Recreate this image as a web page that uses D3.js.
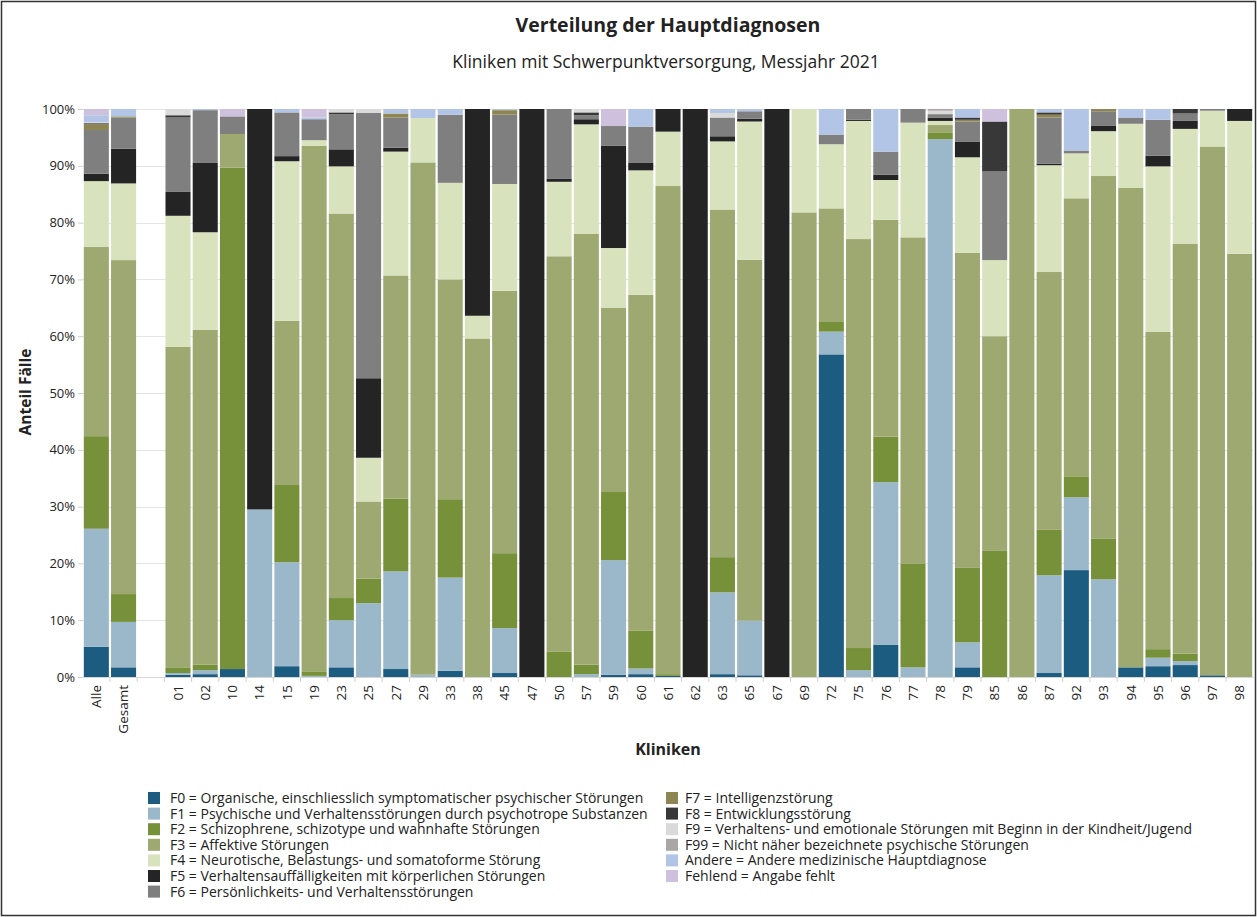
<!DOCTYPE html>
<html>
<head>
<meta charset="utf-8">
<script src="https://cdn.jsdelivr.net/npm/d3@7"></script>
<style>
  body { margin: 0; background: #fff; }
  svg { display: block; }
  text { font-family: "Open Sans", sans-serif; fill: #222; }
</style>
</head>
<body>
<svg id="chart" width="1257" height="917"></svg>
<script>
// Kliniken (leere Kategorie als Abstand nach "Gesamt")
var categories = ['Alle', 'Gesamt', '', '01', '02', '10', '14', '15', '19', '23', '25', '27', '29', '33', '38', '45', '47', '50', '57', '59', '60', '61', '62', '63', '65', '67', '69', '72', '75', '76', '77', '78', '79', '85', '86', '87', '92', '93', '94', '95', '96', '97', '98'];

// Anteile in %
var f0 = [5.3, 1.7, 0, 0.4, 0.5, 1.4, 0, 1.9, 0, 1.7, 0, 1.4, 0, 1.1, 0, 0.7, 0, 0, 0, 0.4, 0.5, 0.2, 0, 0.5, 0.3, 0, 0, 56.8, 0, 5.7, 0, 0, 1.7, 0, 0, 0.7, 18.8, 0, 1.7, 1.9, 2.1, 0.3, 0];
var f1 = [20.8, 8.0, 0, 0.3, 0.7, 0, 29.5, 18.3, 0.2, 8.3, 13.0, 17.2, 0.4, 16.4, 0, 7.9, 0, 0, 0.5, 20.2, 1.0, 0, 0, 14.4, 9.6, 0, 0, 4.0, 1.2, 28.6, 1.7, 94.7, 4.4, 0, 0, 17.2, 12.8, 17.2, 0, 1.5, 0.7, 0, 0];
var f2 = [16.3, 4.9, 0, 1.0, 1.0, 88.3, 0, 13.6, 0.8, 3.9, 4.3, 12.8, 0, 13.8, 0, 13.2, 0, 4.5, 1.7, 12.0, 6.7, 0.3, 0, 6.2, 0, 0, 0, 1.7, 3.9, 8.0, 18.3, 1.2, 13.2, 22.2, 0, 8.0, 3.7, 7.2, 0, 1.5, 1.3, 0, 0];
var f3 = [33.3, 58.8, 0, 56.4, 58.9, 5.9, 0, 28.9, 92.7, 67.7, 13.6, 39.3, 90.2, 38.7, 59.6, 46.2, 0, 69.5, 75.8, 32.5, 59.1, 86.2, 0, 61.2, 63.5, 0, 81.8, 20.0, 72.0, 38.2, 57.4, 1.3, 55.4, 37.8, 100, 45.4, 48.9, 63.8, 84.4, 55.9, 72.2, 93.1, 74.5];
var f4 = [11.6, 13.5, 0, 23.1, 17.2, 0, 0, 28.1, 1.0, 8.3, 7.7, 21.8, 7.8, 17.0, 4.0, 18.8, 0, 13.1, 19.3, 10.5, 21.9, 9.6, 0, 12.0, 24.3, 0, 18.2, 11.3, 20.8, 7.0, 20.2, 0.7, 16.8, 13.4, 0, 18.8, 7.9, 7.9, 11.3, 29.1, 20.2, 6.3, 23.4];
var f5 = [1.3, 6.1, 0, 4.2, 12.2, 0, 70.5, 0.9, 0, 3.0, 14.0, 0.7, 0, 0, 36.4, 0, 100, 0.5, 0.9, 18.0, 1.3, 4.0, 100, 0.9, 0.5, 100, 0, 0, 0.2, 0.9, 0, 0.6, 2.7, 0, 0, 0.3, 0, 1.0, 0, 1.9, 1.4, 0, 2.1];
var f6 = [7.7, 5.5, 0, 13.1, 9.3, 3.1, 0, 7.7, 3.7, 6.2, 46.7, 5.3, 0, 12.0, 0, 12.2, 0, 12.3, 0.7, 3.5, 6.4, 0, 0, 3.3, 1.3, 0, 0, 1.7, 1.9, 4.1, 2.4, 0.6, 3.6, 15.6, 0, 8.1, 0.5, 2.5, 1.1, 6.3, 1.3, 0.3, 0];
var f7 = [1.0, 0.2, 0, 0, 0, 0, 0, 0, 0, 0, 0, 0.7, 0, 0, 0, 0.8, 0, 0, 0, 0, 0, 0, 0, 0, 0, 0, 0, 0, 0, 0, 0, 0, 0.3, 0, 0, 0.5, 0, 0.4, 0, 0, 0, 0, 0];
var f8 = [0.2, 0, 0, 0.4, 0, 0, 0, 0, 0, 0.3, 0, 0, 0, 0, 0, 0, 0, 0, 0.5, 0, 0, 0, 0, 0, 0, 0, 0, 0, 0, 0, 0, 0, 0.4, 8.8, 0, 0.4, 0, 0, 0, 0, 0.8, 0, 0];
var f9 = [0.2, 0, 0, 1.1, 0, 0, 0, 0, 0, 0.6, 0.7, 0, 0, 0, 0, 0, 0, 0, 0.6, 0, 0, 0, 0, 0.8, 0, 0, 0, 0, 0, 0, 0, 0.6, 0, 0, 0, 0, 0, 0, 0, 0, 0, 0, 0];
var f99 = [0, 0, 0, 0, 0, 0, 0, 0, 0, 0, 0, 0, 0, 0, 0, 0, 0, 0, 0, 0, 0, 0, 0, 0, 0, 0, 0, 0, 0, 0, 0, 0.3, 0, 0, 0, 0, 0, 0, 0, 0, 0, 0, 0];
var andere = [1.2, 1.3, 0, 0, 0.2, 0, 0, 0.6, 0.3, 0, 0, 0.8, 1.6, 1.0, 0, 0.2, 0, 0, 0, 0, 3.1, 0, 0, 0.7, 0.4, 0, 0, 4.5, 0, 7.5, 0, 0, 1.5, 0, 0, 0.6, 7.3, 0, 1.5, 1.9, 0, 0, 0];
var fehlend = [1.1, 0, 0, 0, 0, 1.3, 0, 0, 1.5, 0, 0, 0, 0, 0, 0, 0, 0, 0, 0, 3.0, 0, 0, 0, 0, 0, 0, 0, 0, 0, 0, 0, 0, 0, 2.2, 0, 0, 0, 0, 0, 0, 0, 0, 0];

var seriesKeys = ['F0', 'F1', 'F2', 'F3', 'F4', 'F5', 'F6', 'F7', 'F8', 'F9', 'F99', 'Andere', 'Fehlend'];
var seriesValues = [f0, f1, f2, f3, f4, f5, f6, f7, f8, f9, f99, andere, fehlend];
var seriesLabels = [
  'F0 = Organische, einschliesslich symptomatischer psychischer Störungen',
  'F1 = Psychische und Verhaltensstörungen durch psychotrope Substanzen',
  'F2 = Schizophrene, schizotype und wahnhafte Störungen',
  'F3 = Affektive Störungen',
  'F4 = Neurotische, Belastungs- und somatoforme Störung',
  'F5 = Verhaltensauffälligkeiten mit körperlichen Störungen',
  'F6 = Persönlichkeits- und Verhaltensstörungen',
  'F7 = Intelligenzstörung',
  'F8 = Entwicklungsstörung',
  'F9 = Verhaltens- und emotionale Störungen mit Beginn in der Kindheit/Jugend',
  'F99 = Nicht näher bezeichnete psychische Störungen',
  'Andere = Andere medizinische Hauptdiagnose',
  'Fehlend = Angabe fehlt'
];
var seriesColors = ['#1b5c80', '#9bb8cb', '#77913a', '#9ea871', '#d8e3bd', '#242424', '#7f7f7f', '#8e8652', '#383838', '#dadada', '#aaa6a5', '#b2c5e6', '#cdc1de'];
var yTicks = [0, 0.1, 0.2, 0.3, 0.4, 0.5, 0.6, 0.7, 0.8, 0.9, 1];

var rows = categories.map(function (c, i) {
  var r = { kat: c };
  seriesKeys.forEach(function (k, s) { r[k] = seriesValues[s][i]; });
  return r;
});

var svg = d3.select('#chart');
var margin = { left: 83, right: 1253, top: 109, bottom: 677 };

// Rahmen
svg.append('rect')
  .attr('x', 1.5).attr('y', 1.5)
  .attr('width', 1254).attr('height', 914)
  .attr('fill', 'none').attr('stroke', '#333').attr('stroke-width', 1.5);

var x = d3.scaleBand()
  .domain(categories)
  .range([margin.left, margin.right])
  .paddingInner(0.08)
  .paddingOuter(0.03);

var y = d3.scaleLinear()
  .domain([0, 1])
  .range([margin.bottom, margin.top]);

var color = d3.scaleOrdinal().domain(seriesKeys).range(seriesColors);

var stack = d3.stack()
  .keys(seriesKeys)
  .offset(d3.stackOffsetExpand);

var stacked = stack(rows);

// Gitterlinien
svg.append('g')
  .selectAll('line')
  .data(yTicks)
  .enter().append('line')
  .attr('x1', margin.left).attr('x2', margin.right)
  .attr('y1', function (d) { return Math.round(y(d)) + 0.5; })
  .attr('y2', function (d) { return Math.round(y(d)) + 0.5; })
  .attr('stroke', '#e4e4e4');

// Y-Achse
var yAxis = svg.append('g')
  .attr('transform', 'translate(' + margin.left + ',0)')
  .call(d3.axisLeft(y).tickValues(yTicks).tickFormat(d3.format('.0%')).tickSize(5).tickPadding(3));
yAxis.select('.domain').remove();
yAxis.selectAll('line').attr('stroke', '#d0d0d0');
yAxis.selectAll('text')
  .style('font-family', '"Open Sans", sans-serif')
  .style('font-size', '13px')
  .attr('fill', '#333');

// Balken
svg.append('g')
  .selectAll('g')
  .data(stacked)
  .enter().append('g')
  .attr('fill', function (d) { return color(d.key); })
  .selectAll('rect')
  .data(function (d) { return d; })
  .enter().append('rect')
  .attr('x', function (d) { return x(d.data.kat); })
  .attr('width', x.bandwidth())
  .attr('y', function (d) { return y(d[1]); })
  .attr('height', function (d) { return Math.max(0, y(d[0]) - y(d[1])); });

// X-Achse
var xAxis = svg.append('g')
  .attr('transform', 'translate(0,' + margin.bottom + ')')
  .call(d3.axisBottom(x).tickSize(0).tickPadding(7));
xAxis.select('.domain').attr('stroke', '#d6d6d6');
xAxis.selectAll('text')
  .attr('transform', 'rotate(-90)')
  .attr('text-anchor', 'end')
  .attr('dy', '0.35em')
  .attr('x', -8).attr('y', 0)
  .style('font-family', '"Open Sans", sans-serif')
  .style('font-size', '13.5px')
  .attr('fill', '#333');

// Trennstriche zwischen den Kategorien
svg.append('g')
  .selectAll('line')
  .data(categories.slice(1))
  .enter().append('line')
  .attr('x1', function (d) { return x(d) - x.step() * x.paddingInner() / 2; })
  .attr('x2', function (d) { return x(d) - x.step() * x.paddingInner() / 2; })
  .attr('y1', margin.bottom).attr('y2', margin.bottom + 5)
  .attr('stroke', '#d0d0d0');

// Titel
svg.append('text')
  .attr('x', 668).attr('y', 32)
  .attr('text-anchor', 'middle')
  .style('font-size', '19.5px').style('font-weight', 'bold')
  .text('Verteilung der Hauptdiagnosen');

svg.append('text')
  .attr('x', 666).attr('y', 68)
  .attr('text-anchor', 'middle')
  .style('font-size', '17.5px')
  .text('Kliniken mit Schwerpunktversorgung, Messjahr 2021');

svg.append('text')
  .attr('transform', 'translate(31,' + 392 + ') rotate(-90)')
  .attr('text-anchor', 'middle')
  .style('font-size', '15.5px').style('font-weight', 'bold')
  .text('Anteil Fälle');

svg.append('text')
  .attr('x', 668).attr('y', 755)
  .attr('text-anchor', 'middle')
  .style('font-size', '16px').style('font-weight', 'bold')
  .text('Kliniken');

// Legende
var legend = svg.append('g');
var legendItems = legend.selectAll('g')
  .data(seriesKeys)
  .enter().append('g')
  .attr('transform', function (d, i) {
    var col = i < 7 ? 0 : 1;
    var row = i < 7 ? i : i - 7;
    return 'translate(' + (col === 0 ? 148 : 666) + ',' + (792 + row * 15.6) + ')';
  });

legendItems.append('rect')
  .attr('width', 12).attr('height', 12)
  .attr('fill', function (d) { return color(d); });

legendItems.append('text')
  .attr('x', function (d, i) { return i < 7 ? 22 : 19; })
  .attr('y', 6)
  .attr('dy', '0.35em')
  .style('font-size', '14px')
  .text(function (d, i) { return seriesLabels[i]; });
</script>
</body>
</html>
